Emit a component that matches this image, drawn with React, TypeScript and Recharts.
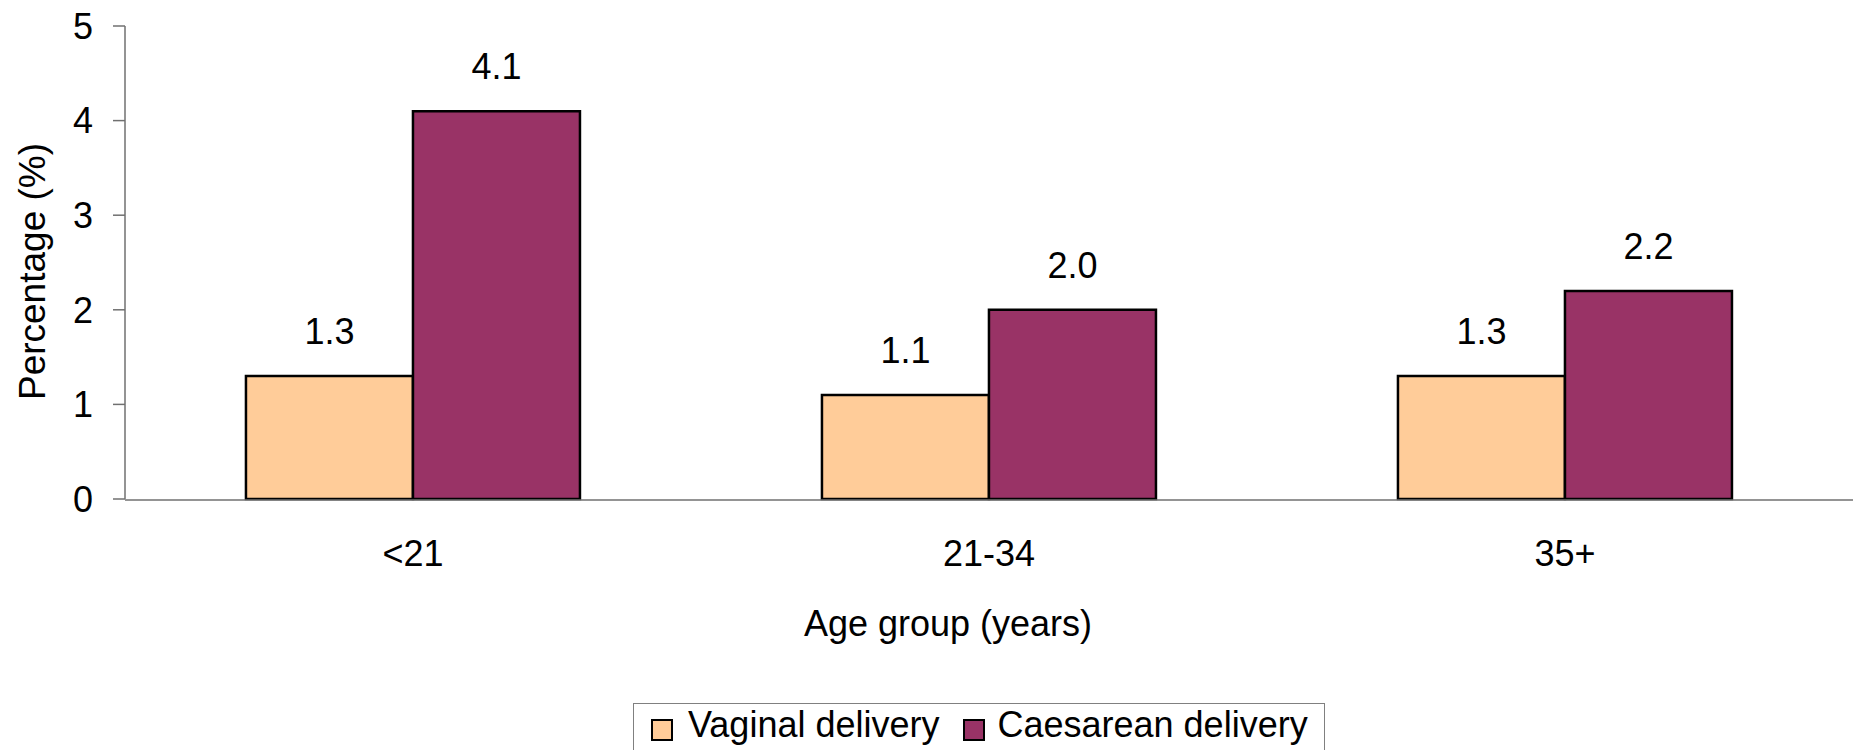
import React from 'react';
import { BarChart, Bar, XAxis, YAxis, Legend, LabelList } from 'recharts';

const categories = ['<21', '21-34', '35+'];
const vaginal = [1.3, 1.1, 1.3];
const caesarean = [4.1, 2.0, 2.2];
const yTicks = [0, 1, 2, 3, 4, 5];
const boundaryTicks = [0, 1, 2, 3];

const seriesKeys = ['vaginal', 'caesarean'];
const seriesNames = { vaginal: 'Vaginal delivery', caesarean: 'Caesarean delivery' };
const colors = { vaginal: '#FFCC99', caesarean: '#993366' };

const data = categories.map((age, i) => ({ age, vaginal: vaginal[i], caesarean: caesarean[i] }));

const FONT = '"Liberation Sans", Arial, sans-serif';
const AXIS = '#707070';

const YLabel = (props: any) => {
  const vb = props.viewBox;
  const cx = 45;
  const cy = vb.y + vb.height / 2 + 9;
  return (
    <text x={cx} y={cy} transform={`rotate(-90, ${cx}, ${cy})`} textAnchor="middle" fontSize={37} fontFamily={FONT} fill="#000">
      Percentage (%)
    </text>
  );
};

const XLabel = (props: any) => {
  const vb = props.viewBox;
  return (
    <text x={vb.x + vb.width / 2 - 41} y={vb.y + 137} textAnchor="middle" fontSize={36} fontFamily={FONT} fill="#000">
      Age group (years)
    </text>
  );
};

const LegendBox = (props: any) => {
  const payload = [...(props.payload || [])].sort(
    (a: any, b: any) => seriesKeys.indexOf(a.dataKey) - seriesKeys.indexOf(b.dataKey)
  );
  return (
    <div style={{ border: '1px solid #808080', height: 70, boxSizing: 'border-box', display: 'flex', alignItems: 'flex-start', paddingLeft: 17, paddingTop: 3, fontFamily: FONT, fontSize: 36, lineHeight: '36px', color: '#000', background: '#fff' }}>
      {payload.map((p: any, i: number) => (
        <div key={i} style={{ display: 'flex', alignItems: 'center', marginRight: 24 }}>
          <div style={{ width: 22, height: 22, boxSizing: 'border-box', border: '2px solid #000', background: p.color, marginRight: i === 0 ? 15 : 12, marginTop: 9 }} />
          <span style={{ whiteSpace: 'nowrap' }}>{p.value}</span>
        </div>
      ))}
    </div>
  );
};

export default function App() {
  return (
    <div style={{ position: 'absolute', left: 0, top: 0, width: 1858, height: 750, overflow: 'hidden', background: '#fff' }}>
      <BarChart
        width={1858}
        height={750}
        data={data}
        margin={{ top: 26, right: 5, left: 0, bottom: 249 }}
        barCategoryGap="21%"
        barGap={0}
      >
        <XAxis
          xAxisId="grid"
          type="number"
          domain={[0, 3]}
          ticks={boundaryTicks}
          tick={false}
          tickSize={12}
          height={1}
          axisLine={{ stroke: AXIS, strokeWidth: 1.5 }}
          tickLine={{ stroke: AXIS, strokeWidth: 1.5 }}
        />
        <XAxis
          dataKey="age"
          height={1}
          axisLine={false}
          tickLine={false}
          tickSize={0}
          tickMargin={41}
          tick={{ fontSize: 36, fill: '#000', fontFamily: FONT }}
          interval={0}
          label={<XLabel />}
        />
        <YAxis
          width={125}
          domain={[0, 5]}
          ticks={yTicks}
          tickSize={12}
          tickMargin={20}
          axisLine={{ stroke: AXIS, strokeWidth: 1.5 }}
          tickLine={{ stroke: AXIS, strokeWidth: 1.5 }}
          tick={{ fontSize: 36, fill: '#000', fontFamily: FONT }}
          label={<YLabel />}
        />
        <Legend
          layout="horizontal"
          verticalAlign="middle"
          align="center"
          content={<LegendBox />}
          wrapperStyle={{ top: 703, left: 633, width: 692, height: 70 }}
        />
        <Bar dataKey="vaginal" name={seriesNames.vaginal} fill={colors.vaginal} stroke="#000" strokeWidth={2.5} isAnimationActive={false}>
          <LabelList dataKey="vaginal" position="top" offset={32} formatter={(v: any) => Number(v).toFixed(1)} style={{ fontSize: 36, fill: '#000', fontFamily: FONT }} />
        </Bar>
        <Bar dataKey="caesarean" name={seriesNames.caesarean} fill={colors.caesarean} stroke="#000" strokeWidth={2.5} isAnimationActive={false}>
          <LabelList dataKey="caesarean" position="top" offset={32} formatter={(v: any) => Number(v).toFixed(1)} style={{ fontSize: 36, fill: '#000', fontFamily: FONT }} />
        </Bar>
      </BarChart>
    </div>
  );
}
